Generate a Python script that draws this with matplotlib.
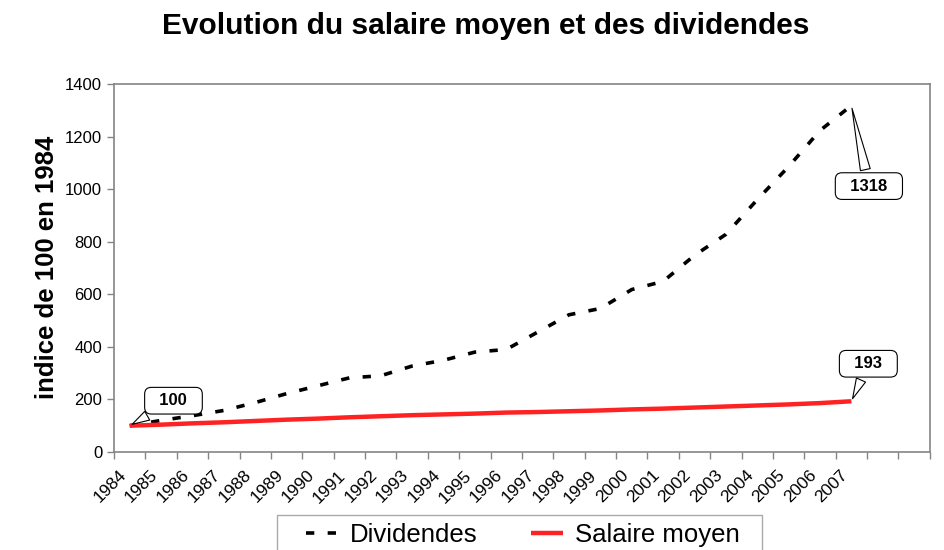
import numpy as np
import matplotlib
matplotlib.use("Agg")
import matplotlib.pyplot as plt
import matplotlib.transforms as mtransforms
from matplotlib.patches import Rectangle

plt.rcParams['font.family'] = ['Liberation Sans', 'DejaVu Sans']

# Données (indice 100 en 1984)
annees = [str(a) for a in range(1984, 2008)]
dividendes = [100, 120, 138, 158, 188, 222, 252, 282, 290, 327, 349, 380,
              390, 456, 522, 546, 618, 649, 748, 828, 960, 1086, 1223, 1318]
salaire = [100, 104, 109, 113, 118, 123, 127, 132, 136, 140, 143, 146,
           150, 152, 155, 158, 162, 165, 169, 173, 177, 181, 186, 193]
n_categories = 26  # l'axe Excel garde deux catégories vides à droite

gris = '#858585'

fig = plt.figure(figsize=(9.44, 5.5), dpi=100)
ax = fig.add_axes([0.1208, 0.1782, 0.8642, 0.6691])

x = np.arange(len(annees))
ax.plot(x, dividendes, color='black', lw=2.6, dashes=(2.3, 3.7),
        dash_capstyle='butt', label='Dividendes')
ax.plot(x, salaire, color='#FF2222', lw=3.2, label='Salaire moyen',
        solid_capstyle='butt')

ax.set_xlim(-0.5, n_categories - 0.5)
ax.set_ylim(0, 1400)
ax.set_yticks(range(0, 1401, 200))
ax.tick_params(axis='y', labelsize=12, length=5, color=gris, width=1)

# graduations entre les catégories, étiquettes au centre
ax.set_xticks(np.arange(-0.5, n_categories, 1))
ax.set_xticklabels([])
ax.set_xticks(x, minor=True)
ax.set_xticklabels(annees, minor=True, rotation=45, ha='right', va='center',
                   rotation_mode='anchor', fontsize=12.5)
ax.tick_params(axis='x', which='major', length=5, color=gris, width=1)
ax.tick_params(axis='x', which='minor', length=0, pad=15)
decalage = mtransforms.ScaledTranslation(-6 / 100, 0, fig.dpi_scale_trans)
for lab in ax.get_xticklabels(minor=True):
    lab.set_transform(lab.get_transform() + decalage)

for s in ax.spines.values():
    s.set_color(gris)
    s.set_linewidth(1.2)

# Bulles de valeurs
bulle = dict(boxstyle='round,pad=0.35,rounding_size=0.4', fc='white',
             ec='black', lw=0.8)
fleche = dict(arrowstyle='wedge,tail_width=0.6,shrink_factor=0.5',
              fc='white', ec='black', lw=0.8)
ax.annotate('  100  ', xy=(0, dividendes[0]), xytext=(31.5, 18),
            textcoords='offset points', ha='center', va='center',
            fontsize=12, fontweight='bold', bbox=bulle, arrowprops=fleche)
ax.annotate('  1318  ', xy=(23, dividendes[-1]), xytext=(12.6, -58),
            textcoords='offset points', ha='center', va='center',
            fontsize=12, fontweight='bold', bbox=bulle, arrowprops=fleche)
ax.annotate('  193  ', xy=(23, salaire[-1]), xytext=(12.2, 27),
            textcoords='offset points', ha='center', va='center',
            fontsize=12, fontweight='bold', bbox=bulle, arrowprops=fleche)

fig.text(0.514, 0.953, 'Evolution du salaire moyen et des dividendes',
         ha='center', va='center', fontsize=21.5, fontweight='bold')
fig.text(0.05, 0.513, 'indice de 100 en 1984', rotation=90,
         ha='center', va='center', fontsize=18.5, fontweight='bold')

# Légende (cadre dessiné à part, coupé par le bas de l'image)
leg = fig.legend(loc='center left', bbox_to_anchor=(306 / 944, 0.027),
                 bbox_transform=fig.transFigure, borderaxespad=0, ncol=2,
                 fontsize=18.5, frameon=False, handlelength=1.25,
                 handletextpad=0.45, columnspacing=2.1, borderpad=0)
fig.patches.append(Rectangle((277 / 944, -0.05), 485 / 944, 35 / 550 + 0.05,
                             transform=fig.transFigure, fill=False,
                             ec='#aaaaaa', lw=1.0))

plt.savefig('out.png', dpi=100, facecolor='white')
plt.close()
